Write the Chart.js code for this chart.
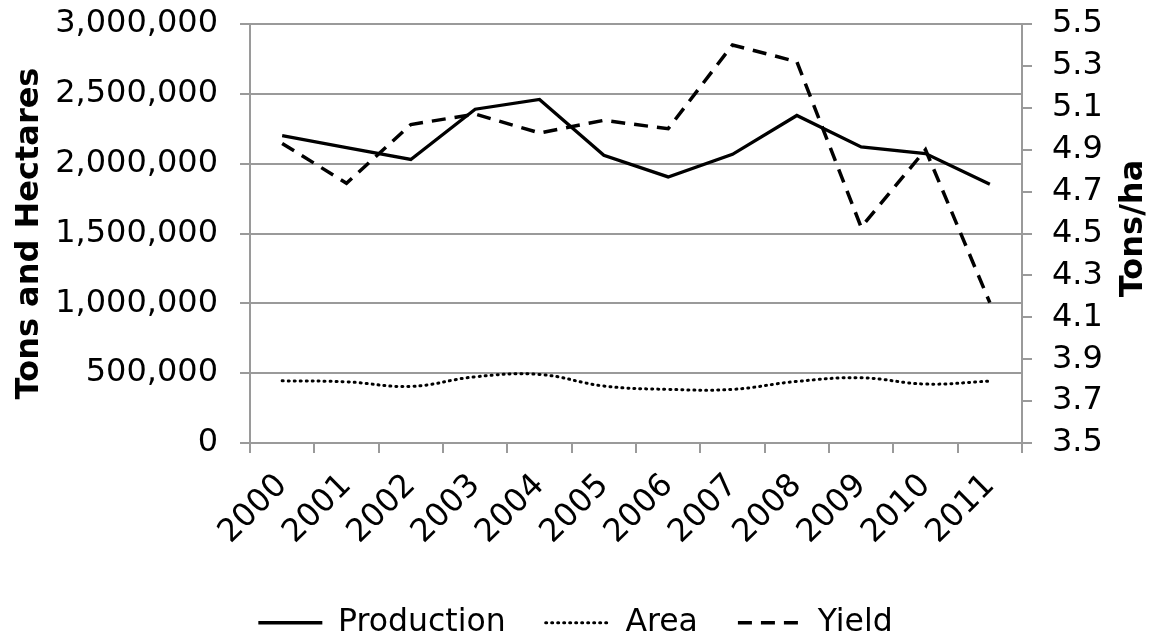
<!DOCTYPE html>
<html>
<head>
<meta charset="utf-8">
<script src="https://cdn.jsdelivr.net/npm/chart.js@4.4.1/dist/chart.umd.min.js"></script>
<style>
  html, body { margin: 0; padding: 0; background: #fff; }
  #wrap { width: 1151px; height: 636px; }
</style>
</head>
<body>
<div id="wrap"><canvas id="grafico"></canvas></div>
<script>
const years = ['2000','2001','2002','2003','2004','2005','2006','2007','2008','2009','2010','2011'];
const production = [2200000, 2115000, 2030000, 2390000, 2460000, 2060000, 1905000, 2067000, 2345000, 2120000, 2072000, 1853000];
const area = [445000, 438000, 405000, 474000, 491000, 408000, 384000, 384000, 441000, 467000, 422000, 443000];
const yieldTonsHa = [4.93, 4.74, 5.02, 5.07, 4.98, 5.04, 5.00, 5.40, 5.32, 4.53, 4.90, 4.17];

const gris = '#9a9a9a';
const fuente = 'DejaVu Sans';

// titulo del eje derecho, leido de abajo hacia arriba como en el original
const tituloDerecho = {
    id: 'tituloDerecho',
    afterDraw(chart) {
        const { ctx, chartArea } = chart;
        ctx.save();
        ctx.translate(1134, (chartArea.top + chartArea.bottom) / 2 - 5);
        ctx.rotate(-Math.PI / 2);
        ctx.font = 'bold 32px "DejaVu Sans"';
        ctx.fillStyle = '#000';
        ctx.textAlign = 'center';
        ctx.textBaseline = 'middle';
        ctx.fillText('Tons/ha', 0, 0);
        ctx.restore();
    }
};

// ancho fijo y sin relleno extra arriba/abajo
const ajustarVertical = (ancho) => (s) => {
    s.width = ancho;
    s.paddingTop = 0;
    s.paddingBottom = 0;
};

new Chart(document.getElementById('grafico').getContext('2d'), {
    type: 'line',
    data: {
        labels: years,
        datasets: [
            {
                label: 'Production',
                data: production,
                yAxisID: 'y',
                borderColor: '#000',
                borderWidth: 3.3,
                pointRadius: 0,
                tension: 0
            },
            {
                label: 'Area',
                data: area,
                yAxisID: 'y',
                borderColor: '#000',
                borderWidth: 3,
                borderDash: [1, 5],
                borderCapStyle: 'round',
                pointRadius: 0,
                tension: 0.4
            },
            {
                label: 'Yield',
                data: yieldTonsHa,
                yAxisID: 'y1',
                borderColor: '#000',
                borderWidth: 3.5,
                borderDash: [14, 9],
                pointRadius: 0,
                tension: 0
            }
        ]
    },
    options: {
        responsive: true,
        maintainAspectRatio: false,
        animation: false,
        layout: { padding: { top: 24, left: 0, right: 0, bottom: 0 } },
        plugins: {
            tooltip: { enabled: false },
            legend: {
                position: 'bottom',
                maxHeight: 69,
                labels: {
                    color: '#000',
                    font: { family: fuente, size: 31.5 },
                    usePointStyle: true,
                    pointStyle: 'line',
                    pointStyleWidth: 64,
                    boxHeight: 4,
                    padding: 40,
                    generateLabels(chart) {
                        return Chart.defaults.plugins.legend.labels.generateLabels(chart).map((item) => {
                            const ds = chart.data.datasets[item.datasetIndex];
                            item.lineDash = ds.borderDash || [];
                            item.lineCap = ds.borderCapStyle || 'butt';
                            item.lineWidth = ds.borderWidth;
                            return item;
                        });
                    }
                }
            }
        },
        scales: {
            x: {
                offset: true,
                grid: { offset: true, drawOnChartArea: false, color: gris, lineWidth: 2, tickLength: 10 },
                border: { color: gris, width: 2 },
                ticks: {
                    color: '#000',
                    font: { family: fuente, size: 32 },
                    minRotation: 45,
                    maxRotation: 45,
                    autoSkip: false,
                    padding: 14
                },
                afterFit: (s) => { s.height = 124; }
            },
            y: {
                position: 'left',
                min: 0,
                max: 3000000,
                ticks: {
                    stepSize: 500000,
                    color: '#000',
                    font: { family: fuente, size: 32 },
                    padding: 22,
                    callback: (v) => v.toLocaleString('en-US')
                },
                grid: { color: gris, lineWidth: 2, tickLength: 10 },
                border: { color: gris, width: 2 },
                title: {
                    display: true,
                    text: 'Tons and Hectares',
                    color: '#000',
                    font: { family: fuente, size: 32, weight: 'bold' },
                    padding: { top: 10, bottom: 0 }
                },
                afterFit: ajustarVertical(250)
            },
            y1: {
                position: 'right',
                min: 3.5,
                max: 5.5,
                ticks: {
                    stepSize: 0.2,
                    autoSkip: false,
                    color: '#000',
                    font: { family: fuente, size: 32 },
                    padding: 20,
                    callback: (v) => Number(v).toFixed(1)
                },
                grid: { drawOnChartArea: false, color: gris, lineWidth: 2, tickLength: 10 },
                border: { color: gris, width: 2 },
                afterFit: ajustarVertical(129)
            }
        }
    },
    plugins: [tituloDerecho]
});
</script>
</body>
</html>
